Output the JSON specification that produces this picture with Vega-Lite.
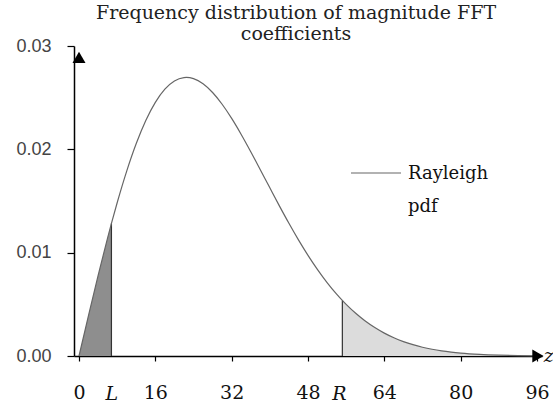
{
  "$schema": "https://vega.github.io/schema/vega-lite/v6.json",
  "autosize": "none",
  "width": 468,
  "height": 310,
  "padding": {"left": 74, "top": 46, "right": 11, "bottom": 50},
  "background": "white",
  "config": {"view": {"stroke": null}, "font": "DejaVu Serif"},
  "title": {
    "text": ["Frequency distribution of magnitude FFT", "coefficients"],
    "anchor": "middle",
    "font": "DejaVu Serif",
    "fontSize": 19,
    "fontWeight": "normal",
    "color": "#222",
    "lineHeight": 21,
    "offset": -7,
    "dx": -12
  },
  "datasets": {
    "curve": [
      {"x": 0, "y": 0},
      {"x": 2, "y": 0.003935},
      {"x": 4, "y": 0.007777},
      {"x": 6, "y": 0.011438},
      {"x": 6.8, "y": 0.012833},
      {"x": 8, "y": 0.014834},
      {"x": 10, "y": 0.017895},
      {"x": 12, "y": 0.020561},
      {"x": 14, "y": 0.022787},
      {"x": 16, "y": 0.024544},
      {"x": 18, "y": 0.025819},
      {"x": 20, "y": 0.026612},
      {"x": 22, "y": 0.026943},
      {"x": 22.5, "y": 0.026957},
      {"x": 24, "y": 0.02684},
      {"x": 26, "y": 0.026343},
      {"x": 28, "y": 0.025497},
      {"x": 30, "y": 0.024362},
      {"x": 32, "y": 0.022991},
      {"x": 34, "y": 0.021442},
      {"x": 36, "y": 0.019772},
      {"x": 38, "y": 0.018031},
      {"x": 40, "y": 0.016273},
      {"x": 42, "y": 0.01453},
      {"x": 44, "y": 0.012844},
      {"x": 46, "y": 0.011241},
      {"x": 48, "y": 0.009742},
      {"x": 50, "y": 0.00836},
      {"x": 52, "y": 0.007108},
      {"x": 54, "y": 0.005987},
      {"x": 55.2, "y": 0.005377},
      {"x": 56, "y": 0.004997},
      {"x": 58, "y": 0.004131},
      {"x": 60, "y": 0.003386},
      {"x": 62, "y": 0.00275},
      {"x": 64, "y": 0.002213},
      {"x": 66, "y": 0.001765},
      {"x": 68, "y": 0.001396},
      {"x": 70, "y": 0.001094},
      {"x": 72, "y": 0.00085},
      {"x": 74, "y": 0.000655},
      {"x": 76, "y": 0.0005},
      {"x": 78, "y": 0.000379},
      {"x": 80, "y": 0.000284},
      {"x": 84, "y": 0.000156},
      {"x": 88, "y": 0.000083},
      {"x": 92, "y": 0.000043},
      {"x": 96, "y": 0.000021}
    ],
    "marks": [
      {"x": 6.9, "label": "L"},
      {"x": 54.6, "label": "R"}
    ],
    "arrows": [
      {"x": 96.2, "y": 0, "shape": "triangle-right"},
      {"x": 0, "y": 0.0289, "shape": "triangle-up"}
    ],
    "zlabel": [
      {"x": 97.4, "y": 0, "label": "z"}
    ]
  },
  "layer": [
    {
      "data": {"name": "curve"},
      "transform": [{"filter": "datum.x <= 6.8"}],
      "mark": {"type": "area", "color": "#8e8e8e", "opacity": 1},
      "encoding": {
        "x": {"field": "x", "type": "quantitative", "scale": {"domain": [0, 96], "nice": false},
          "axis": {"values": [0, 16, 32, 48, 64, 80, 96], "title": null, "grid": false,
            "domainColor": "#000", "domainWidth": 1.5, "tickColor": "#000", "tickSize": 5, "tickWidth": 1.2,
            "labelFont": "DejaVu Serif", "labelFontSize": 19, "labelColor": "#111", "labelPadding": 22}},
        "y": {"field": "y", "type": "quantitative", "scale": {"domain": [0, 0.03], "nice": false},
          "axis": {"values": [0, 0.01, 0.02, 0.03], "format": ".2f", "title": null, "grid": false,
            "domainColor": "#000", "domainWidth": 1.5, "tickColor": "#000", "tickSize": 7, "tickWidth": 1.2,
            "labelFont": "Liberation Sans", "labelFontSize": 18, "labelColor": "#444", "labelPadding": 16}}
      }
    },
    {
      "data": {"name": "curve"},
      "transform": [{"filter": "datum.x >= 55.2"}],
      "mark": {"type": "area", "color": "#dcdcdc", "opacity": 1},
      "encoding": {
        "x": {"field": "x", "type": "quantitative"},
        "y": {"field": "y", "type": "quantitative"}
      }
    },
    {
      "data": {"name": "curve"},
      "transform": [{"filter": "datum.x == 6.8 || datum.x == 55.2"}],
      "mark": {"type": "bar", "color": "#333", "width": 1.2},
      "encoding": {
        "x": {"field": "x", "type": "quantitative"},
        "y": {"field": "y", "type": "quantitative"}
      }
    },
    {
      "data": {"name": "curve"},
      "mark": {"type": "line", "strokeWidth": 1.2, "interpolate": "monotone"},
      "encoding": {
        "x": {"field": "x", "type": "quantitative"},
        "y": {"field": "y", "type": "quantitative"},
        "color": {"datum": "Rayleigh pdf", "type": "nominal", "scale": {"range": ["#666"]},
          "legend": {"title": null, "orient": "none", "legendX": 276, "legendY": 101,
            "symbolType": "stroke", "symbolSize": 2500, "symbolStrokeWidth": 1.2,
            "labelExpr": "['Rayleigh', 'pdf']", "labelFont": "DejaVu Serif", "labelFontSize": 18,
            "labelColor": "#111", "labelBaseline": "alphabetic", "labelOffset": 6,
            "encode": {"labels": {"update": {"dy": {"value": 6}, "lineHeight": {"value": 33}}}}}}
      }
    },
    {
      "data": {"name": "arrows"},
      "mark": {"type": "point", "filled": true, "color": "#000", "size": 170, "opacity": 1},
      "encoding": {
        "x": {"field": "x", "type": "quantitative"},
        "y": {"field": "y", "type": "quantitative"},
        "shape": {"field": "shape", "type": "nominal", "scale": null, "legend": null}
      }
    },
    {
      "data": {"name": "marks"},
      "mark": {"type": "text", "font": "DejaVu Serif", "fontStyle": "italic", "fontSize": 19, "color": "#111", "baseline": "middle", "dy": 38},
      "encoding": {
        "x": {"field": "x", "type": "quantitative"},
        "y": {"datum": 0, "type": "quantitative"},
        "text": {"field": "label", "type": "nominal"}
      }
    },
    {
      "data": {"name": "zlabel"},
      "mark": {"type": "text", "font": "DejaVu Serif", "fontStyle": "italic", "fontSize": 19, "color": "#111", "baseline": "middle", "align": "left"},
      "encoding": {
        "x": {"field": "x", "type": "quantitative"},
        "y": {"field": "y", "type": "quantitative"},
        "text": {"field": "label", "type": "nominal"}
      }
    }
  ]
}
